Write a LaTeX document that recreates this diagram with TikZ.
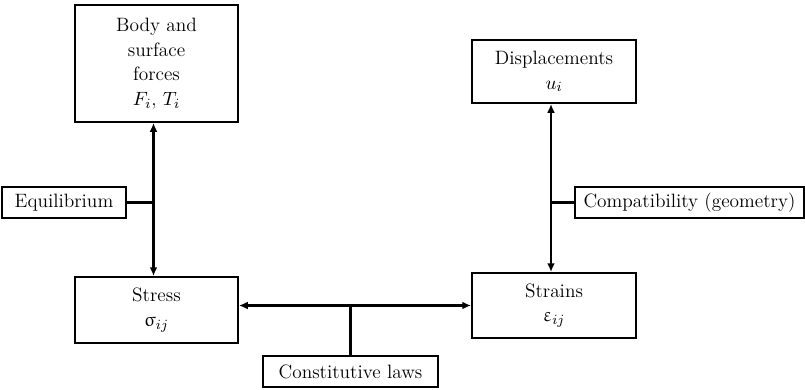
\documentclass[tikz,border=0pt]{standalone}
\usepackage{upgreek}
\usepackage{tikz}
\usetikzlibrary{arrows.meta, positioning, calc}

\begin{document}
\begin{tikzpicture}[x=0.02cm, y=-0.02cm, >={Latex[length=5pt, width=4.5pt]},
  block/.style={draw, line width=1.1pt, align=center, inner sep=2pt, font=\fontsize{11}{14}\selectfont},
  law/.style={draw, line width=1.1pt, minimum height=31*0.02cm, inner sep=2pt, font=\fontsize{11}{14}\selectfont},
  link/.style={line width=1.3pt},
  flow/.style={<->, line width=1.3pt}
]
  \useasboundingbox (0,0) rectangle (805,389);

  % Main blocks
  \node[block, minimum width=163*0.02cm, minimum height=117*0.02cm] (Forces) at (156.5,63.5) {Body and\\surface\\forces\\$F_i$, $T_i$};
  \node[block, minimum width=163*0.02cm, minimum height=66*0.02cm] (Stress) at (156.5,310) {Stress\\$\upsigma_{ij}$};
  \node[block, minimum width=164*0.02cm, minimum height=63*0.02cm] (Disp) at (554,71.5) {Displacements\\$u_i$};
  \node[block, minimum width=164*0.02cm, minimum height=65*0.02cm] (Strains) at (554,305.5) {Strains\\$\upvarepsilon_{ij}$};

  % Governing laws
  \node[law, minimum width=124*0.02cm] (Equil) at (64,202.5) {Equilibrium};
  \node[law, minimum width=229*0.02cm] (Compat) at (689.5,202.5) {Compatibility (geometry)};
  \node[law, minimum width=175*0.02cm] (Const) at (350.5,371.5) {Constitutive laws};

  % Relations
  \coordinate (fs) at ([xshift=-3*0.02cm]Forces.south);
  \coordinate (ds) at ([xshift=-3*0.02cm]Disp.south);
  \draw[flow] (fs) -- (fs |- Stress.north);
  \draw[flow] (ds) -- (ds |- Strains.north);
  \draw[flow] (Stress.east |- Strains.west) -- (Strains.west);
  \draw[link] (Equil.east) -- (Equil.east -| fs);
  \draw[link] (Compat.west) -- (Compat.west -| ds);
  \draw[link] (Const.north) -- (Const.north |- Strains.west);
\end{tikzpicture}
\end{document}
